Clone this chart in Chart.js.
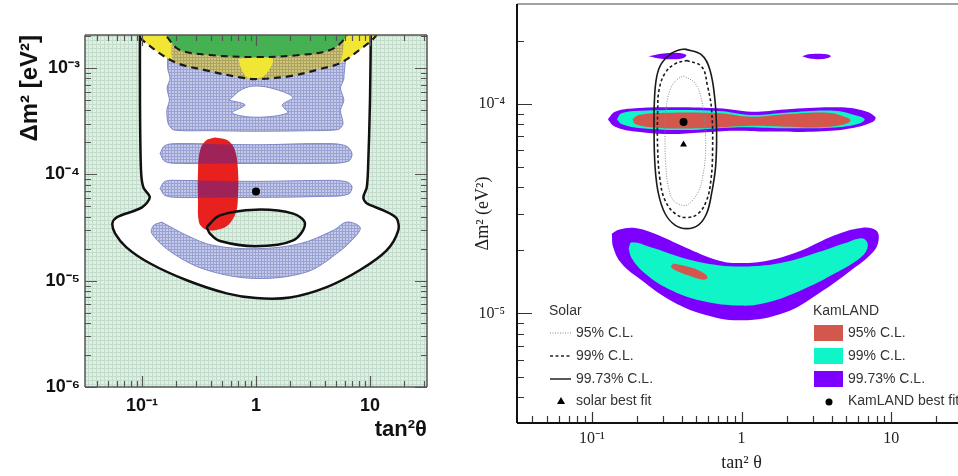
<!DOCTYPE html>
<html>
<head>
<meta charset="utf-8">
<script src="https://cdn.jsdelivr.net/npm/chart.js@4.4.1/dist/chart.umd.min.js"></script>
<style>
  body { margin: 0; width: 958px; height: 476px; overflow: hidden; background: #fff; position: relative; }
  canvas { position: absolute; top: 0; }
  #leftChart { left: 0; }
  #rightChart { left: 470px; }
</style>
</head>
<body>
<canvas id="leftChart" width="450" height="476"></canvas>
<canvas id="rightChart" width="500" height="476"></canvas>
<script>
// ---------- left panel: solar global fit with KamLAND 2002 ----------
const leftXRange = [Math.pow(10, -1.5), Math.pow(10, 1.5)];
const leftYRange = [1e-6, 2.05e-3];
const leftXTicks = [0.1, 1, 10];
const leftXTickLabels = ["10⁻¹", "1", "10"];
const leftYTicks = [1e-6, 1e-5, 1e-4, 1e-3];
const leftYTickLabels = ["10⁻⁶", "10⁻⁵", "10⁻⁴", "10⁻³"];

// contours as [tan²θ, Δm²] pairs
const leftOuterContour = [[0.096, 3e-3], [0.096, 5e-4], [0.098, 1.09e-4], [0.103, 7.5e-5], [0.117, 6.08e-5], [0.1, 4.9e-5],
  [0.06, 3.95e-5], [0.055, 3.47e-5], [0.058, 2.79e-5], [0.073, 2.06e-5], [0.117, 1.46e-5], [0.247, 1.01e-5], [0.553, 7.6e-6],
  [1.0, 6.86e-6], [1.99, 6.95e-6], [4.17, 8.7e-6], [8.17, 1.26e-5], [14, 1.93e-5], [17.7, 2.98e-5], [17.1, 3.86e-5],
  [13.1, 4.59e-5], [9.35, 5.35e-5], [8.74, 6.08e-5], [9.35, 7.5e-5], [9.6, 1.09e-4], [10, 5e-4], [10.2, 3e-3]];
const leftInnerContour = [[0.369, 3.2e-5], [0.483, 4.12e-5], [0.994, 4.66e-5], [2.12, 4.28e-5], [2.69, 3.44e-5],
  [2.12, 2.4e-5], [0.994, 2.11e-5], [0.483, 2.36e-5], [0.395, 2.77e-5]];
const leftBandLow = [[0.149, 3.56e-5], [0.247, 2.67e-5], [0.42, 2.15e-5], [1.0, 2.0e-5], [2.43, 2.23e-5], [4.77, 2.98e-5],
  [6.25, 3.56e-5], [8.17, 3.2e-5], [7.6, 2.67e-5], [5.1, 1.8e-5], [2.79, 1.21e-5], [1.0, 1.05e-5], [0.37, 1.26e-5],
  [0.188, 1.8e-5], [0.122, 2.77e-5], [0.126, 3.3e-5]];
const leftBand1 = [[0.144, 7.39e-5], [0.159, 8.6e-5], [0.215, 8.78e-5], [1.0, 8.6e-5], [3.64, 8.78e-5], [6.04, 8.6e-5],
  [6.95, 7.72e-5], [6.41, 6.49e-5], [3.64, 6.21e-5], [1.0, 6.08e-5], [0.215, 6.08e-5], [0.159, 6.35e-5]];
const leftBand2 = [[0.144, 1.575e-4], [0.159, 1.87e-4], [0.215, 1.95e-4], [1.0, 1.9e-4], [3.64, 1.95e-4], [6.04, 1.87e-4],
  [6.95, 1.575e-4], [6.41, 1.325e-4], [3.64, 1.27e-4], [1.0, 1.27e-4], [0.215, 1.27e-4], [0.159, 1.325e-4]];
const leftUpperBlue = [[0.17, 2.4e-3], [0.168, 1.0e-3], [0.176, 8e-4], [0.166, 6.5e-4], [0.174, 5e-4], [0.165, 4e-4],
  [0.17, 3.0e-4], [0.19, 2.62e-4], [0.4, 2.58e-4], [1.0, 2.55e-4], [3.0, 2.58e-4], [5.3, 2.65e-4], [5.8, 3.0e-4],
  [5.5, 4e-4], [5.9, 5e-4], [5.5, 6.5e-4], [5.9, 8e-4], [5.6, 2.4e-3]];
const leftUpperHole = [[0.58, 5.0e-4], [0.75, 6.3e-4], [1.0, 6.8e-4], [1.5, 6.3e-4], [2.1, 5.3e-4], [1.7, 4.5e-4],
  [1.9, 3.8e-4], [1.0, 3.45e-4], [0.62, 3.8e-4], [0.8, 4.5e-4]];
const leftArcLow = [[0.085, 2.4e-3], [0.09, 2.04e-3], [0.187, 1.16e-3], [0.357, 9.58e-4], [0.724, 8.2e-4], [1.0, 7.9e-4],
  [1.99, 8.4e-4], [3.64, 9.8e-4], [5.5, 1.12e-3], [8.2, 1.5e-3], [11, 1.95e-3], [12.5, 2.5e-3]];
const leftArcHigh = [[0.15, 2.5e-3], [0.17, 1.9e-3], [0.215, 1.48e-3], [0.394, 1.33e-3], [1.0, 1.27e-3], [2.43, 1.33e-3],
  [4.46, 1.48e-3], [6.04, 1.91e-3], [6.6, 2.5e-3]];
const leftOlive = [[0.187, 2.6e-3], [0.187, 1.16e-3], [0.357, 9.58e-4], [0.724, 8.2e-4], [1.0, 7.9e-4], [1.99, 8.4e-4],
  [3.64, 9.8e-4], [5.5, 1.12e-3], [5.5, 2.6e-3]];
const leftYellowCore = [[0.7, 1.22e-3], [1.0, 1.25e-3], [1.4, 1.22e-3], [1.3, 9.6e-4], [1.1, 8.1e-4], [0.85, 8.1e-4], [0.75, 9.6e-4]];
const leftKamland = [[0.437, 2.225e-4], [0.568, 2.085e-4], [0.654, 1.68e-4], [0.695, 1.09e-4], [0.695, 6.35e-5],
  [0.668, 4.4e-5], [0.568, 3.32e-5], [0.437, 2.98e-5], [0.357, 3.05e-5], [0.316, 3.54e-5], [0.31, 5.7e-5],
  [0.31, 1.09e-4], [0.323, 1.68e-4], [0.364, 2.085e-4]];
const leftBestFit = [[1.0, 6.9e-5]];

// ---------- right panel: KamLAND vs solar ----------
const rightXRange = [Math.pow(10, -1.5), Math.pow(10, 1.5)];
const rightYRange = [3e-6, 3e-4];
const rightXTicks = [0.1, 1, 10];
const rightXTickLabels = ["10⁻¹", "1", "10"];
const rightYTicks = [1e-5, 1e-4];
const rightYTickLabels = ["10⁻⁵", "10⁻⁴"];

const kamUpper9973 = [[0.129, 8.54e-5], [0.143, 9.19e-5], [0.195, 9.53e-5], [0.325, 9.64e-5], [0.70, 9.53e-5], [1.17, 9.19e-5],
  [1.95, 9.42e-5], [4.19, 9.64e-5], [6.31, 9.36e-5], [7.82, 8.69e-5], [7.55, 8.22e-5], [5.41, 7.65e-5], [3.24, 7.38e-5],
  [1.51, 7.38e-5], [0.90, 7.45e-5], [0.54, 7.3e-5], [0.325, 7.18e-5], [0.195, 7.38e-5], [0.143, 7.78e-5], [0.129, 8.38e-5]];
const kamUpper99 = [[0.147, 8.45e-5], [0.158, 9.02e-5], [0.215, 9.29e-5], [0.70, 9.26e-5], [1.17, 8.86e-5], [1.95, 9.09e-5],
  [4.19, 9.29e-5], [5.7, 8.86e-5], [6.65, 8.45e-5], [6.0, 8.02e-5], [4.19, 7.73e-5], [1.95, 7.65e-5], [0.90, 7.73e-5],
  [0.42, 7.51e-5], [0.215, 7.65e-5], [0.158, 8.02e-5]];
const kamUpper95 = [[0.187, 8.45e-5], [0.205, 8.86e-5], [0.325, 9.09e-5], [0.70, 9.02e-5], [1.17, 8.69e-5], [1.95, 8.93e-5],
  [3.79, 9.09e-5], [4.89, 8.69e-5], [5.36, 8.32e-5], [4.64, 7.94e-5], [3.24, 7.73e-5], [1.95, 7.78e-5], [1.17, 7.86e-5],
  [0.54, 7.65e-5], [0.273, 7.7e-5], [0.195, 8.02e-5]];
const kamIslandA = [[0.239, 1.69e-4], [0.3, 1.74e-4], [0.38, 1.75e-4], [0.428, 1.71e-4], [0.4, 1.65e-4], [0.3, 1.64e-4]];
const kamIslandB = [[2.54, 1.69e-4], [2.9, 1.73e-4], [3.6, 1.73e-4], [3.95, 1.69e-4], [3.6, 1.645e-4], [2.9, 1.645e-4]];
const kamLow9973 = [[0.136, 2.40e-5], [0.151, 2.51e-5], [0.195, 2.56e-5], [0.264, 2.40e-5], [0.419, 2.07e-5], [0.70, 1.79e-5],
  [1.0, 1.74e-5], [1.51, 1.79e-5], [2.51, 2.0e-5], [4.19, 2.36e-5], [6.31, 2.56e-5], [7.94, 2.49e-5], [8.24, 2.23e-5],
  [7.55, 1.96e-5], [5.41, 1.61e-5], [3.24, 1.24e-5], [1.95, 1.01e-5], [1.0, 9.27e-6], [0.54, 9.98e-6], [0.325, 1.17e-5],
  [0.215, 1.44e-5], [0.158, 1.73e-5], [0.139, 2.07e-5]];
const kamLow99 = [[0.176, 2.04e-5], [0.185, 2.19e-5], [0.264, 2.04e-5], [0.419, 1.83e-5], [0.70, 1.70e-5], [1.17, 1.68e-5],
  [1.95, 1.76e-5], [3.24, 1.96e-5], [5.14, 2.19e-5], [6.47, 2.28e-5], [6.99, 2.11e-5], [6.31, 1.86e-5], [4.19, 1.55e-5],
  [2.51, 1.29e-5], [1.51, 1.13e-5], [1.0, 1.09e-5], [0.54, 1.15e-5], [0.325, 1.31e-5], [0.227, 1.55e-5], [0.185, 1.83e-5]];
const kamLow95 = [[0.351, 1.73e-5], [0.441, 1.67e-5], [0.541, 1.58e-5], [0.593, 1.49e-5], [0.556, 1.45e-5], [0.441, 1.52e-5],
  [0.36, 1.61e-5], [0.338, 1.67e-5]];
const solar9973 = [[0.4192, 1.827e-4], [0.5412, 1.715e-4], [0.6153, 1.454e-4], [0.6645, 1.045e-4], [0.6817, 7.24e-5],
  [0.6712, 5.01e-5], [0.6313, 3.74e-5], [0.5847, 3.0e-5], [0.5143, 2.64e-5], [0.43, 2.54e-5], [0.3595, 2.64e-5],
  [0.3083, 3.0e-5], [0.2784, 3.74e-5], [0.2646, 5.01e-5], [0.2606, 7.24e-5], [0.262, 1.045e-4], [0.2714, 1.351e-4],
  [0.293, 1.566e-4], [0.3416, 1.747e-4], [0.3882, 1.814e-4]];
const solar99 = [[0.43, 1.611e-4], [0.5412, 1.509e-4], [0.5938, 1.21e-4], [0.6313, 9.36e-5], [0.641, 6.02e-5], [0.6248, 4.33e-5],
  [0.5847, 3.47e-5], [0.5143, 3.0e-5], [0.43, 2.87e-5], [0.3595, 3.0e-5], [0.3083, 3.47e-5], [0.2857, 4.33e-5],
  [0.2755, 6.02e-5], [0.2755, 9.36e-5], [0.2813, 1.167e-4], [0.3083, 1.401e-4], [0.3595, 1.553e-4]];
const solar95 = [[0.4086, 1.361e-4], [0.4887, 1.256e-4], [0.5412, 1.045e-4], [0.5699, 7.79e-5], [0.5758, 6.02e-5],
  [0.5553, 4.66e-5], [0.5143, 3.81e-5], [0.4412, 3.32e-5], [0.3983, 3.29e-5], [0.3504, 3.47e-5], [0.3245, 4.02e-5],
  [0.3114, 5.2e-5], [0.3083, 7.24e-5], [0.313, 9.36e-5], [0.333, 1.167e-4], [0.3688, 1.302e-4]];
const solarBestFit = [[0.41, 6.4e-5]];
const kamBestFit = [[0.41, 8.2e-5]];

const solarLegend = ["95% C.L.", "99% C.L.", "99.73% C.L.", "solar best fit"];
const kamLegend = ["95% C.L.", "99% C.L.", "99.73% C.L.", "KamLAND best fit"];
const kamColors = ["#d4574e", "#0ff5c8", "#7d00ff"];

// ---------- helpers ----------
function hatch(base, line, step) {
  const c = document.createElement("canvas");
  c.width = step; c.height = step;
  const g = c.getContext("2d");
  g.fillStyle = base; g.fillRect(0, 0, step, step);
  g.fillStyle = line; g.fillRect(0, 0, 1, step); g.fillRect(0, 0, step, 1);
  return g.createPattern(c, "repeat");
}
const greenHatch = hatch("#def0e2", "#c4dccb", 4);
const blueHatch = hatch("#c4c9e8", "#9aa2d4", 3);
const oliveHatch = hatch("#cfc47c", "#aca35e", 3);

const toXY = pts => pts.map(([x, y]) => ({ x, y }));

function area(label, pts, fill, line = {}) {
  const closed = line.open ? pts : pts.concat([pts[0]]);
  return {
    label, data: toXY(closed),
    fill: fill ? "shape" : false,
    backgroundColor: fill || "transparent",
    borderColor: line.color || "transparent",
    borderWidth: line.width || 0,
    borderDash: line.dash || [],
    tension: line.tension ?? 0.35,
    pointRadius: 0
  };
}
function marker(label, pts, style, r) {
  return { label, data: toXY(pts), showLine: false, pointStyle: style, pointRadius: r,
    pointBackgroundColor: "#000", pointBorderColor: "#000", pointBorderWidth: 0 };
}
function stack(list) {
  list.forEach((d, i) => { d.order = list.length - i; });
  return list;
}
function pickLabel(ticks, labels) {
  return value => {
    const i = ticks.findIndex(t => Math.abs(Math.log10(value) - Math.log10(t)) < 1e-6);
    return i >= 0 ? labels[i] : "";
  };
}

// inward log ticks and frame
const frameTicks = {
  id: "frameTicks",
  afterDatasetsDraw(chart, args, o) {
    const { ctx, chartArea: a, scales: { x, y } } = chart;
    const steps = s => {
      const out = [];
      for (let e = Math.floor(Math.log10(s.min)); e <= Math.ceil(Math.log10(s.max)); e++) {
        for (let m = 1; m < 10; m++) {
          const v = m * Math.pow(10, e);
          if (v >= s.min && v <= s.max) out.push([v, m === 1]);
        }
      }
      return out;
    };
    ctx.save();
    ctx.strokeStyle = o.color; ctx.lineWidth = o.width;
    ctx.beginPath();
    steps(x).forEach(([v, major]) => {
      const px = Math.round(x.getPixelForValue(v)) + 0.5;
      const len = major ? o.xMajor : o.xMinor;
      if (o.sides.includes("bottom")) { ctx.moveTo(px, a.bottom); ctx.lineTo(px, a.bottom - len); }
      if (o.sides.includes("top")) { ctx.moveTo(px, a.top); ctx.lineTo(px, a.top + len); }
    });
    steps(y).forEach(([v, major]) => {
      const py = Math.round(y.getPixelForValue(v)) + 0.5;
      const len = major ? o.yMajor : o.yMinor;
      if (o.sides.includes("left")) { ctx.moveTo(a.left, py); ctx.lineTo(a.left + len, py); }
      if (o.sides.includes("right")) { ctx.moveTo(a.right, py); ctx.lineTo(a.right - len, py); }
    });
    ctx.stroke();
    o.frame.forEach(([side, color, w]) => {
      ctx.strokeStyle = color; ctx.lineWidth = w;
      ctx.beginPath();
      if (side === "left") { ctx.moveTo(a.left, a.top); ctx.lineTo(a.left, a.bottom); }
      if (side === "right") { ctx.moveTo(a.right, a.top); ctx.lineTo(a.right, a.bottom); }
      if (side === "top") { ctx.moveTo(a.left, a.top); ctx.lineTo(a.right, a.top); }
      if (side === "bottom") { ctx.moveTo(a.left, a.bottom); ctx.lineTo(a.right, a.bottom); }
      ctx.stroke();
    });
    ctx.restore();
  }
};

// hatched pale green background of the left plot
const greenBackground = {
  id: "greenBackground",
  beforeDatasetsDraw(chart) {
    const { ctx, chartArea: a } = chart;
    ctx.save();
    ctx.fillStyle = greenHatch;
    ctx.fillRect(a.left, a.top, a.width, a.height);
    ctx.restore();
  }
};

// darken the blue bands where the red KamLAND region covers them
const redOverlap = {
  id: "redOverlap",
  afterDatasetDraw(chart, args) {
    if (chart.data.datasets[args.index].label !== "KamLAND") return;
    const ctx = chart.ctx;
    ctx.save();
    ctx.beginPath();
    args.meta.dataset.path(ctx);
    ctx.closePath();
    ctx.clip();
    ["band 1", "band 2"].forEach(name => {
      const i = chart.data.datasets.findIndex(d => d.label === name);
      ctx.beginPath();
      chart.getDatasetMeta(i).dataset.path(ctx);
      ctx.closePath();
      ctx.fillStyle = "rgba(70, 40, 160, 0.45)";
      ctx.fill();
    });
    ctx.restore();
  }
};

const sans = "\"Liberation Sans\", Arial, sans-serif";
const serif = "\"Liberation Serif\", \"Times New Roman\", serif";

new Chart(document.getElementById("leftChart"), {
  type: "line",
  data: {
    datasets: stack([
      area("allowed", leftOuterContour, "#ffffff", { open: true }),
      area("inner fill", leftInnerContour, greenHatch),
      area("band low", leftBandLow, blueHatch, { color: "#7f88c8", width: 1 }),
      area("band 1", leftBand1, blueHatch, { color: "#7f88c8", width: 1 }),
      area("band 2", leftBand2, blueHatch, { color: "#7f88c8", width: 1 }),
      area("upper", leftUpperBlue, blueHatch, { color: "#7f88c8", width: 1, tension: 0.25 }),
      area("upper hole", leftUpperHole, "#ffffff", { color: "#7f88c8", width: 1 }),
      area("yellow", leftArcLow, "#f2e634"),
      area("olive", leftOlive, oliveHatch, { tension: 0.2 }),
      area("green", leftArcHigh, "#45b153"),
      area("yellow core", leftYellowCore, "#f2e634"),
      area("arc low", leftArcLow, null, { open: true, color: "#1a1a1a", width: 2.2, dash: [7, 5] }),
      area("arc high", leftArcHigh, null, { open: true, color: "#1a1a1a", width: 2, dash: [7, 5] }),
      area("KamLAND", leftKamland, "#e8201e"),
      area("allowed line", leftOuterContour, null, { open: true, color: "#111", width: 2.5, tension: 0.3 }),
      area("inner line", leftInnerContour, null, { color: "#111", width: 2.5 }),
      marker("best fit", leftBestFit, "circle", 4)
    ])
  },
  options: {
    responsive: false,
    animation: false,
    events: [],
    layout: { padding: { left: 0, top: 35, right: 23, bottom: 0 } },
    elements: { line: { capBezierPoints: false } },
    plugins: {
      legend: { display: false },
      tooltip: { enabled: false },
      frameTicks: {
        sides: ["left", "right", "top", "bottom"], color: "#555", width: 1.2,
        xMajor: 11, xMinor: 6, yMajor: 12, yMinor: 6,
        frame: [["left", "#555", 1.5], ["right", "#555", 1.5], ["top", "#555", 1.5], ["bottom", "#555", 1.5]]
      }
    },
    scales: {
      x: {
        type: "logarithmic", min: leftXRange[0], max: leftXRange[1],
        grid: { display: false, drawTicks: false }, border: { display: false },
        ticks: { autoSkip: false, maxRotation: 0, padding: 8, color: "#111",
          font: { family: sans, size: 18, weight: "bold" }, callback: pickLabel(leftXTicks, leftXTickLabels) },
        title: { display: true, text: "tan²θ", align: "end", color: "#111",
          font: { family: sans, size: 22, weight: "bold" }, padding: { top: 0, bottom: 33 } },
        afterFit: s => { s.height = 89; s.paddingLeft = 0; s.paddingRight = 0; }
      },
      y: {
        type: "logarithmic", min: leftYRange[0], max: leftYRange[1],
        grid: { display: false, drawTicks: false }, border: { display: false },
        ticks: { autoSkip: false, padding: 5, color: "#111",
          font: { family: sans, size: 18, weight: "bold" }, callback: pickLabel(leftYTicks, leftYTickLabels) },
        title: { display: true, text: "Δm² [eV²]", align: "end", color: "#111",
          font: { family: sans, size: 24, weight: "bold" }, padding: { top: 16, bottom: 0 } },
        afterFit: s => { s.width = 85; s.paddingTop = 0; s.paddingBottom = 0; }
      }
    }
  },
  plugins: [greenBackground, redOverlap, frameTicks]
});

// legend of the right panel, drawn inside the plot box
const rightLegend = {
  id: "rightLegend",
  afterDraw(chart) {
    const { ctx, chartArea: a } = chart;
    const c1 = a.left + 32, c2 = a.left + 296;
    const rows = [333, 356, 379, 401];
    ctx.save();
    ctx.font = "14px " + sans;
    ctx.fillStyle = "#333";
    ctx.textBaseline = "middle";
    ctx.fillText("Solar", c1, 311);
    ctx.fillText("KamLAND", c2, 311);
    const dashes = [[1, 1.5], [3, 2.5], []];
    const colors = ["#888", "#222", "#222"];
    for (let i = 0; i < 3; i++) {
      ctx.strokeStyle = colors[i];
      ctx.lineWidth = i === 0 ? 1 : 1.5;
      ctx.setLineDash(dashes[i]);
      ctx.beginPath(); ctx.moveTo(c1 + 1, rows[i]); ctx.lineTo(c1 + 22, rows[i]); ctx.stroke();
      ctx.fillStyle = "#333";
      ctx.fillText(solarLegend[i], c1 + 27, rows[i]);
      ctx.fillStyle = kamColors[i];
      ctx.fillRect(c2 + 1, rows[i] - 8, 29, 16);
      ctx.fillStyle = "#333";
      ctx.fillText(kamLegend[i], c2 + 35, rows[i]);
    }
    ctx.setLineDash([]);
    ctx.fillStyle = "#000";
    ctx.beginPath();
    ctx.moveTo(c1 + 12, rows[3] - 4); ctx.lineTo(c1 + 16, rows[3] + 3); ctx.lineTo(c1 + 8, rows[3] + 3);
    ctx.closePath(); ctx.fill();
    ctx.beginPath(); ctx.arc(c2 + 16, rows[3] + 1, 3.5, 0, Math.PI * 2); ctx.fill();
    ctx.fillStyle = "#333";
    ctx.fillText(solarLegend[3], c1 + 27, rows[3]);
    ctx.fillText(kamLegend[3], c2 + 35, rows[3]);
    ctx.restore();
  }
};

new Chart(document.getElementById("rightChart"), {
  type: "line",
  data: {
    datasets: stack([
      area("KamLAND 99.73% upper", kamUpper9973, kamColors[2], { tension: 0.4 }),
      area("KamLAND 99% upper", kamUpper99, kamColors[1], { tension: 0.4 }),
      area("KamLAND 95% upper", kamUpper95, kamColors[0], { tension: 0.4 }),
      area("KamLAND 99.73% lower", kamLow9973, kamColors[2], { tension: 0.4 }),
      area("KamLAND 99% lower", kamLow99, kamColors[1], { tension: 0.4 }),
      area("KamLAND 95% lower", kamLow95, kamColors[0], { tension: 0.4 }),
      area("KamLAND 99.73% island a", kamIslandA, kamColors[2], { tension: 0.4 }),
      area("KamLAND 99.73% island b", kamIslandB, kamColors[2], { tension: 0.4 }),
      area("Solar 95% C.L.", solar95, null, { color: "#888", width: 1, dash: [1, 1.5], tension: 0.4 }),
      area("Solar 99% C.L.", solar99, null, { color: "#1a1a1a", width: 1.6, dash: [3, 2.5], tension: 0.4 }),
      area("Solar 99.73% C.L.", solar9973, null, { color: "#1a1a1a", width: 1.6, tension: 0.4 }),
      marker("solar best fit", solarBestFit, "triangle", 4),
      marker("KamLAND best fit", kamBestFit, "circle", 4)
    ])
  },
  options: {
    responsive: false,
    animation: false,
    events: [],
    layout: { padding: { left: 0, top: 4, right: 2, bottom: 0 } },
    elements: { line: { capBezierPoints: false } },
    plugins: {
      legend: { display: false },
      tooltip: { enabled: false },
      frameTicks: {
        sides: ["left", "bottom"], color: "#333", width: 1.2,
        xMajor: 11, xMinor: 7, yMajor: 15, yMinor: 7,
        frame: [["top", "#444", 1], ["left", "#111", 2], ["bottom", "#111", 2]]
      }
    },
    scales: {
      x: {
        type: "logarithmic", min: rightXRange[0], max: rightXRange[1],
        grid: { display: false, drawTicks: false }, border: { display: false },
        ticks: { autoSkip: false, maxRotation: 0, padding: 6, color: "#222",
          font: { family: serif, size: 16 }, callback: pickLabel(rightXTicks, rightXTickLabels) },
        title: { display: true, text: "tan² θ", color: "#222",
          font: { family: serif, size: 18 }, padding: { top: 0, bottom: 2 } },
        afterFit: s => { s.height = 53; s.paddingLeft = 0; s.paddingRight = 0; }
      },
      y: {
        type: "logarithmic", min: rightYRange[0], max: rightYRange[1],
        grid: { display: false, drawTicks: false }, border: { display: false },
        ticks: { autoSkip: false, padding: 12, color: "#222",
          font: { family: serif, size: 16 }, callback: pickLabel(rightYTicks, rightYTickLabels) },
        title: { display: true, text: "Δm² (eV²)", color: "#222",
          font: { family: serif, size: 18 }, padding: { top: 2, bottom: 0 } },
        afterFit: s => { s.width = 47; s.paddingTop = 0; s.paddingBottom = 0; }
      }
    }
  },
  plugins: [rightLegend, frameTicks]
});
</script>
</body>
</html>
